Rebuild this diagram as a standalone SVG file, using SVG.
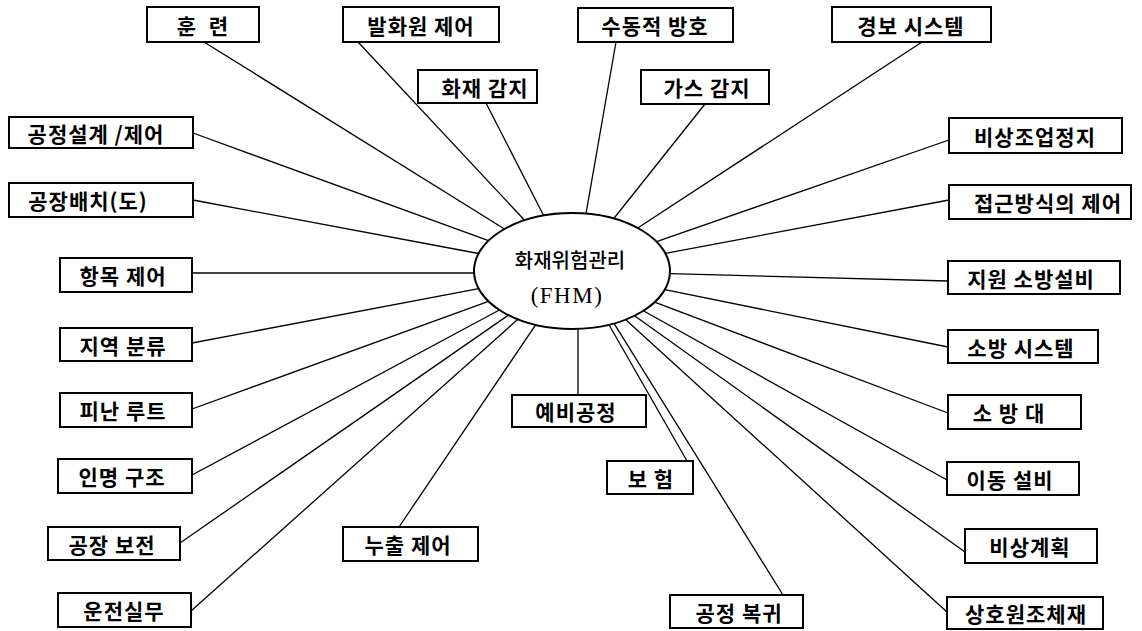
<svg xmlns="http://www.w3.org/2000/svg" width="1142" height="631" viewBox="0 0 1142 631">
<style>
.box rect{fill:#fff;stroke:#000;stroke-width:2}
.box text{font-family:"Noto Sans CJK KR","Noto Sans",sans-serif;font-size:21px;font-weight:bold;text-anchor:middle;dominant-baseline:central;letter-spacing:1px;fill:#000}
#connectors line{stroke:#000;stroke-width:1.3}
.hub ellipse{fill:#fff;stroke:#000;stroke-width:2}
.hub text{text-anchor:middle;fill:#000}
</style>
<rect width="1142" height="631" fill="#fff"/>
<g id="connectors">
<line x1="204" y1="42" x2="504.5" y2="229"/>
<line x1="358" y1="42" x2="524.6" y2="220.2"/>
<line x1="616" y1="42" x2="586" y2="213.6"/>
<line x1="922" y1="42" x2="637.7" y2="228"/>
<line x1="486" y1="103" x2="543.6" y2="215.5"/>
<line x1="705" y1="104" x2="613.8" y2="218.5"/>
<line x1="193" y1="133" x2="488.5" y2="240.6"/>
<line x1="193" y1="200" x2="478.6" y2="253.5"/>
<line x1="949" y1="140" x2="656.5" y2="241.6"/>
<line x1="949" y1="200" x2="665.4" y2="253.4"/>
<line x1="192" y1="273" x2="474" y2="273"/>
<line x1="192" y1="343" x2="478.7" y2="288.7"/>
<line x1="192" y1="409" x2="488.5" y2="301.3"/>
<line x1="192" y1="475" x2="499.4" y2="310"/>
<line x1="180" y1="543" x2="508.4" y2="315.1"/>
<line x1="191" y1="611" x2="517.8" y2="319.3"/>
<line x1="399" y1="527" x2="535.6" y2="324.9"/>
<line x1="578" y1="395" x2="578" y2="328.9"/>
<line x1="687" y1="461" x2="609" y2="324.7"/>
<line x1="783" y1="595" x2="614" y2="323.4"/>
<line x1="948" y1="281" x2="669.9" y2="273.6"/>
<line x1="948" y1="347" x2="664.8" y2="289.7"/>
<line x1="948" y1="413" x2="654.6" y2="302.2"/>
<line x1="947" y1="480" x2="643.3" y2="310.8"/>
<line x1="965" y1="552" x2="634.5" y2="315.7"/>
<line x1="947" y1="612" x2="625.5" y2="319.6"/>
</g>
<g id="hub" class="hub">
<ellipse cx="572" cy="271" rx="98" ry="58"/>
<text x="570" y="268" font-family="Noto Sans CJK KR,sans-serif" font-size="20" font-weight="500">화재위험관리</text>
<text x="567" y="303" font-family="Liberation Serif,serif" font-size="23" letter-spacing="1.5">(FHM)</text>
</g>
<g id="n1" class="box"><rect x="147" y="7" width="112" height="35"/><text x="203" y="25" word-spacing="6">훈 련</text></g>
<g id="n2" class="box"><rect x="343" y="7" width="156" height="35"/><text x="421" y="25">발화원 제어</text></g>
<g id="n3" class="box"><rect x="578" y="8" width="155" height="34"/><text x="655" y="25">수동적 방호</text></g>
<g id="n4" class="box"><rect x="832" y="7" width="159" height="35"/><text x="911" y="25">경보 시스템</text></g>
<g id="n5" class="box"><rect x="418" y="70" width="119" height="33"/><text x="485" y="87">화재 감지</text></g>
<g id="n6" class="box"><rect x="641" y="70" width="128" height="34"/><text x="707" y="87">가스 감지</text></g>
<g id="n7" class="box"><rect x="9" y="117" width="184" height="31"/><text x="96" y="133">공정설계 /제어</text></g>
<g id="n8" class="box"><rect x="9" y="183" width="184" height="34"/><text x="88" y="200">공장배치(도)</text></g>
<g id="n9" class="box"><rect x="949" y="118" width="173" height="35"/><text x="1035" y="136">비상조업정지</text></g>
<g id="n10" class="box"><rect x="949" y="185" width="182" height="34"/><text x="1048" y="202">접근방식의 제어</text></g>
<g id="n11" class="box"><rect x="60" y="258" width="132" height="34"/><text x="123" y="275">항목 제어</text></g>
<g id="n12" class="box"><rect x="60" y="328" width="132" height="33"/><text x="123" y="345">지역 분류</text></g>
<g id="n13" class="box"><rect x="60" y="393" width="132" height="34"/><text x="123" y="410">피난 루트</text></g>
<g id="n14" class="box"><rect x="58" y="459" width="134" height="34"/><text x="122" y="476">인명 구조</text></g>
<g id="n15" class="box"><rect x="48" y="527" width="132" height="33"/><text x="112" y="544">공장 보전</text></g>
<g id="n16" class="box"><rect x="58" y="593" width="133" height="34"/><text x="124" y="610" letter-spacing="2">운전실무</text></g>
<g id="n17" class="box"><rect x="343" y="527" width="135" height="34"/><text x="408" y="544">누출 제어</text></g>
<g id="n18" class="box"><rect x="512" y="395" width="134" height="32"/><text x="576" y="411" letter-spacing="4">예비공정</text></g>
<g id="n19" class="box"><rect x="607" y="461" width="86" height="33"/><text x="651" y="478">보 험</text></g>
<g id="n20" class="box"><rect x="670" y="595" width="133" height="33"/><text x="739" y="612">공정 복귀</text></g>
<g id="n21" class="box"><rect x="948" y="261" width="172" height="33"/><text x="1031" y="278">지원 소방설비</text></g>
<g id="n22" class="box"><rect x="948" y="330" width="150" height="33"/><text x="1021" y="347">소방 시스템</text></g>
<g id="n23" class="box"><rect x="948" y="395" width="133" height="34"/><text x="1009" y="412">소 방 대</text></g>
<g id="n24" class="box"><rect x="947" y="462" width="132" height="33"/><text x="1010" y="479">이동 설비</text></g>
<g id="n25" class="box"><rect x="965" y="529" width="132" height="34"/><text x="1030" y="546" letter-spacing="2">비상계획</text></g>
<g id="n26" class="box"><rect x="947" y="597" width="156" height="32"/><text x="1026" y="613">상호원조체재</text></g>
</svg>
